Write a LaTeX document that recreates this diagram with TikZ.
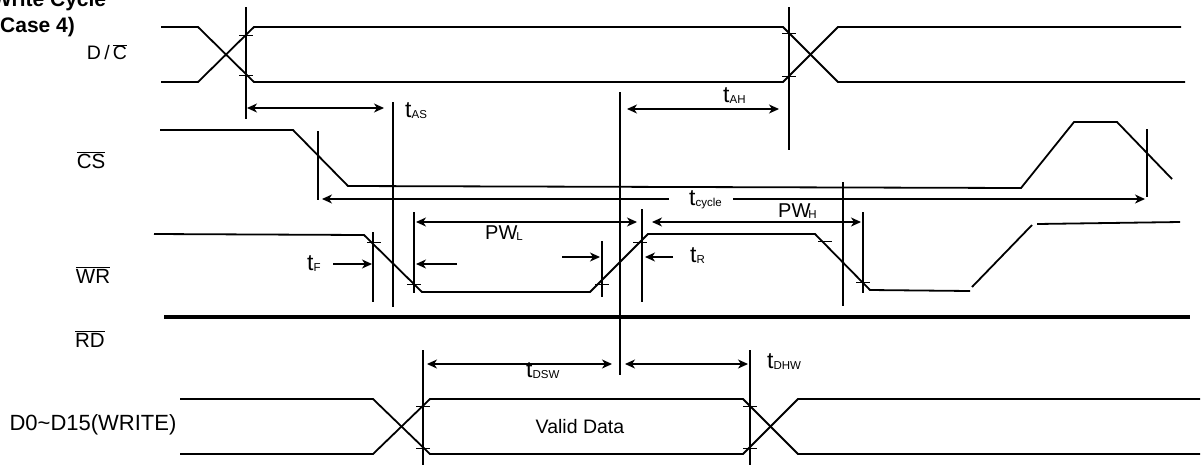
\documentclass[tikz,border=0pt]{standalone}
\usepackage{fontspec}
\setmainfont{Liberation Sans}
\usetikzlibrary{arrows.meta}
\newcommand{\tlab}[1]{{\fontsize{23}{23}\selectfont t}\raisebox{-1.5pt}{\fontsize{11.5}{11.5}\selectfont #1}}
\newcommand{\pwlab}[2]{PW\kern#2\raisebox{-1.5pt}{\fontsize{11.5}{11.5}\selectfont #1}}
\newcommand{\ovl}[1]{\ensuremath{\overline{\hbox{#1}}}}
\begin{document}
\begin{tikzpicture}[x=1pt,y=-1pt,
  sig/.style={line width=1.8pt,line join=miter},
  guide/.style={line width=1.6pt},
  tickm/.style={line width=0.8pt},
  dim/.style={line width=1.2pt,{Stealth[length=10pt,width=9pt,inset=3pt]}-{Stealth[length=10pt,width=9pt,inset=3pt]}},
  dimr/.style={line width=1.2pt,-{Stealth[length=10pt,width=9pt,inset=3pt]}},
  lab/.style={inner sep=0pt,font=\fontsize{20}{24}\selectfont},
  tl/.style={inner sep=0pt,anchor=base west,font=\fontsize{20}{24}\selectfont},
  title/.style={inner sep=0pt,anchor=base west,font=\bfseries\fontsize{21}{25}\selectfont}]
\useasboundingbox (0,0) rectangle (1202,467);
\fill[white] (0,0) rectangle (1202,467);

% title
\node[title] (t1) at (-8,6) {Write Cycle};
\node[title] (t2) at (-7,32) {(Case 4)};

% signal names
\node[lab,font=\fontsize{19.5}{22}\selectfont] (ndc) at (107,52) {D\,/\,\ovl{C}};
\node[lab,font=\fontsize{20.5}{24}\selectfont] (ncs) at (91,160) {\ovl{CS}};
\node[lab,font=\fontsize{20.5}{24}\selectfont] (nwr) at (93,275) {\ovl{WR}};
\node[lab,font=\fontsize{20.5}{24}\selectfont] (nrd) at (90,339) {\ovl{RD}};
\node[lab,font=\fontsize{22}{26}\selectfont] (nd) at (93,425) {D0\textasciitilde D15(WRITE)};

% D/C
\draw[sig] (161,27) -- (198,27) -- (254,82) -- (783,82) -- (838,27) -- (1181,27);
\draw[sig] (161,82) -- (198,82) -- (254,27) -- (783,27) -- (838,82) -- (1185,82);
\draw[guide] (246,7) -- (246,119);
\draw[guide] (789,7) -- (789,150);
\draw[tickm] (239,35) -- (253,35) (239,75) -- (253,75);
\draw[tickm] (782,33) -- (796,33) (782,76) -- (796,76);

% tAS / tAH
\draw[dim] (247,108) -- (384,108);
\node[tl] (las) at (405,117) {\tlab{AS}};
\draw[guide] (393,102) -- (393,307);
\draw[guide] (620,92) -- (620,375);
\draw[dim] (627,109) -- (779,109);
\node[tl] (lah) at (723,102) {\tlab{AH}};

% CS
\draw[sig] (160,130) -- (293,130) -- (348,186) -- (1021,188) -- (1074,122) -- (1117,122) -- (1172,179);
\draw[guide] (318,131) -- (318,200);
\draw[guide] (1147,129) -- (1147,197);
\draw[line width=1.2pt,{Stealth[length=10pt,width=9pt,inset=3pt]}-] (322,199) -- (669,199);
\draw[line width=1.2pt,-{Stealth[length=10pt,width=9pt,inset=3pt]}] (733,199) -- (1145,199);
\node[tl] (lcy) at (689,205) {\tlab{cycle}};

% WR
\draw[sig] (154,234) -- (364,235) -- (422,292) -- (590,292) -- (648,234) -- (815,234) -- (870,290) -- (970,291);
\draw[sig] (972,287) -- (1032,225);
\draw[sig] (1037,224) -- (1180,222);
\draw[tickm] (367,242) -- (381,242) (407,284) -- (421,284);
\draw[tickm] (595,284) -- (609,284) (633,242) -- (647,242);
\draw[tickm] (818,241) -- (832,241) (856,282) -- (870,282);
\draw[guide] (373,232) -- (373,302);
\draw[guide] (414,212) -- (414,293);
\draw[guide] (602,241) -- (602,297);
\draw[guide] (642,209) -- (642,302);
\draw[guide] (843,182) -- (843,306);
\draw[guide] (863,212) -- (863,293);
\draw[dimr] (333,264) -- (372,264);
\node[tl] (lf) at (307,270) {\tlab{F}};
\draw[dimr] (457,264) -- (416,264);
\draw[dim] (416,222) -- (637,222);
\node[tl] (lpl) at (485,239) {\pwlab{L}{-1pt}};
\draw[dimr] (562,257) -- (600,257);
\draw[dimr] (673,257) -- (645,257);
\node[tl] (lr) at (690,262) {\tlab{R}};
\draw[dim] (652,222) -- (861,222);
\node[tl] (lph) at (778,217) {\pwlab{H}{-2pt}};

% RD
\draw[line width=3.4pt] (164,317) -- (1190,317);

% Data
\draw[sig] (180,399) -- (373,399) -- (430,454) -- (743,454) -- (798,399) -- (1200,399);
\draw[sig] (180,454) -- (373,454) -- (430,399) -- (743,399) -- (798,454) -- (1200,454);
\draw[guide] (423,350) -- (423,465);
\draw[guide] (750,350) -- (750,465);
\draw[tickm] (416,406) -- (430,406) (416,448) -- (430,448);
\draw[tickm] (743,406) -- (757,406) (743,448) -- (757,448);
\draw[dim] (427,364) -- (612,364);
\draw[dim] (625,364) -- (748,364);
\node[tl] (ldsw) at (526,377) {\tlab{DSW}};
\node[tl] (ldhw) at (767,368) {\tlab{DHW}};
\node[lab,font=\fontsize{19.5}{24}\selectfont] (lvd) at (580,427) {Valid Data};
\end{tikzpicture}
\end{document}
